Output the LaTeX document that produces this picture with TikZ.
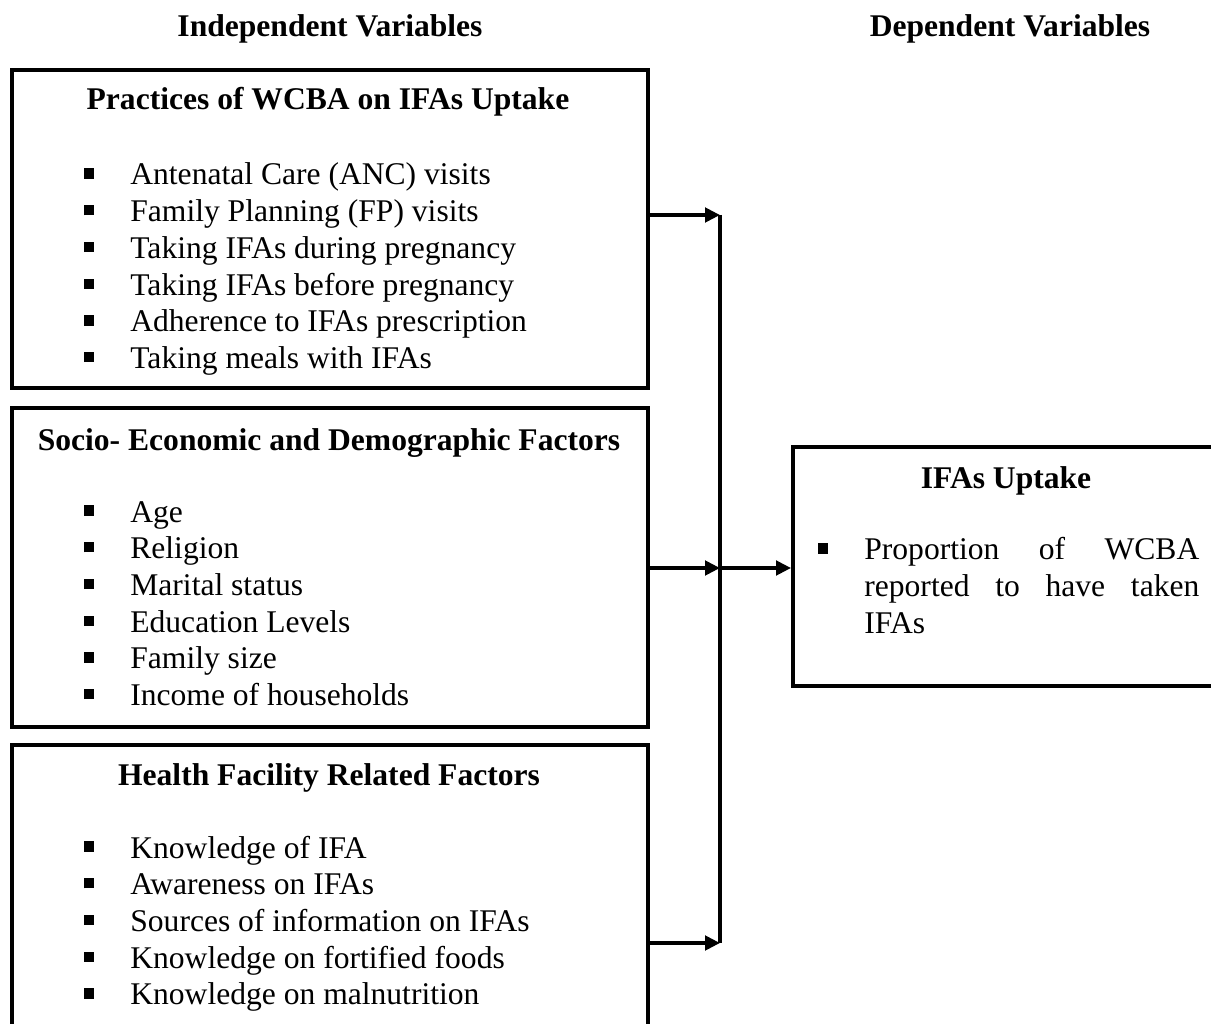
\documentclass[tikz,border=0pt]{standalone}
\usepackage{fontspec}
\setmainfont{Liberation Serif}
\usepackage{tikz}
\usetikzlibrary{arrows.meta,positioning,fit}
\newcommand{\sqbul}{\rule[2.4pt]{3.9pt}{3.9pt}}
\newcommand{\itemrow}[1]{\sqbul & #1\\}
\tikzstyle{panel} = [rectangle, draw=black, line width=1.5pt, inner sep=0pt]
\tikzstyle{heading} = [font={\fontsize{12}{13.95}\selectfont\bfseries}, anchor=base, inner sep=0pt]
\tikzstyle{itemlist} = [font={\fontsize{12}{13.95}\selectfont}, anchor=base west, inner sep=0pt]
\tikzstyle{arrow} = [line width=1.3pt, -{Triangle[length=5.7pt,width=5.5pt]}]

\begin{document}
\begin{tikzpicture}[x=0.38pt, y=-0.38pt]
\path[use as bounding box, clip] (0,0) rectangle (1211,1024);
% Column headings
\node[heading] (indep) at (330,37) {Independent Variables};
\node[heading] (dep) at (1010,37) {Dependent Variables};
% Independent variable boxes
\node[panel, fit={(12,70) (648,388)}] (practices) {};
\node[heading] (practicesT) at (328,110) {Practices of WCBA on IFAs Uptake};
\node[itemlist] (practicesL) at (83,185) {\begin{tabular}[t]{@{}p{17.8pt}@{}l@{}}
\itemrow{Antenatal Care (ANC) visits}
\itemrow{Family Planning (FP) visits}
\itemrow{Taking IFAs during pregnancy}
\itemrow{Taking IFAs before pregnancy}
\itemrow{Adherence to IFAs prescription}
\itemrow{Taking meals with IFAs}
\end{tabular}};
\node[panel, fit={(12,408) (648,727)}] (socio) {};
\node[heading] (socioT) at (329,450) {Socio- Economic and Demographic Factors};
\node[itemlist] (socioL) at (83,522) {\begin{tabular}[t]{@{}p{17.8pt}@{}l@{}}
\itemrow{Age}
\itemrow{Religion}
\itemrow{Marital status}
\itemrow{Education Levels}
\itemrow{Family size}
\itemrow{Income of households}
\end{tabular}};
\node[panel, fit={(12,745) (648,1045)}] (facility) {};
\node[heading] (facilityT) at (329,785) {Health Facility Related Factors};
\node[itemlist] (facilityL) at (83,858) {\begin{tabular}[t]{@{}p{17.8pt}@{}l@{}}
\itemrow{Knowledge of IFA}
\itemrow{Awareness on IFAs}
\itemrow{Sources of information on IFAs}
\itemrow{Knowledge on fortified foods}
\itemrow{Knowledge on malnutrition}
\end{tabular}};
% Dependent variable box
\node[panel, fit={(793,447) (1230,686)}] (uptake) {};
\node[heading] (uptakeT) at (1006,488) {IFAs Uptake};
\node[itemlist] (uptakeL) at (817,560) {\begin{tabular}[t]{@{}p{17.8pt}@{}p{127.3pt}@{}}
\sqbul & Proportion of WCBA\linebreak reported to have taken\linebreak IFAs
\end{tabular}};
% Connectors
\coordinate (j1) at (720,215);
\coordinate (j2) at (720,568);
\coordinate (j3) at (720,943);
\draw[arrow] (practices.east |- j1) -- (j1);
\draw[arrow] (socio.east |- j2) -- (j2);
\draw[arrow] (facility.east |- j3) -- (j3);
\draw[line width=1.3pt] (j1) -- (j3);
\draw[arrow] (j2) -- (uptake.west |- j2);
\end{tikzpicture}
\end{document}
